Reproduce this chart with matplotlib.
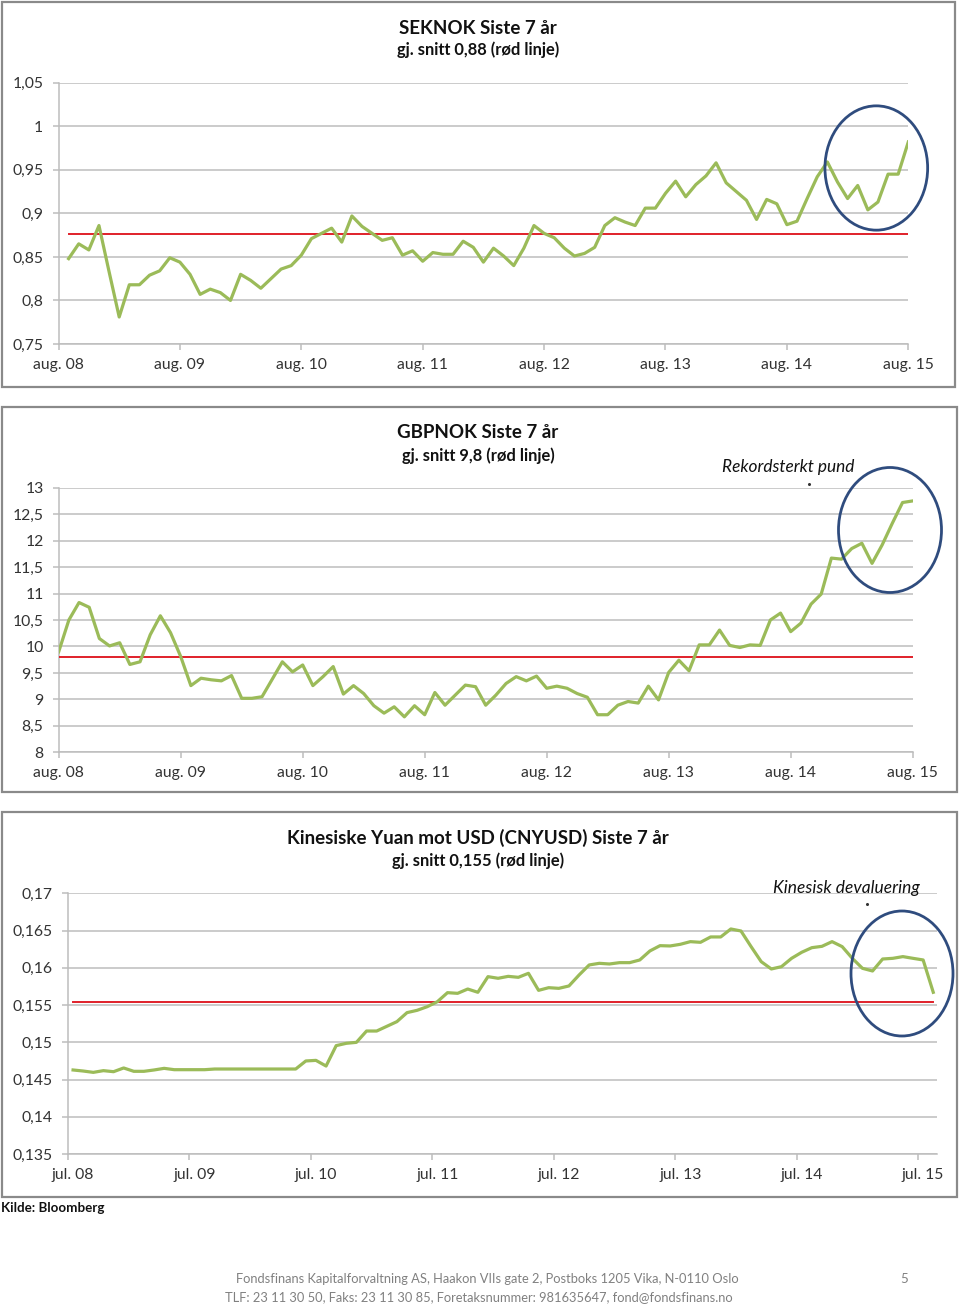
import matplotlib
matplotlib.use('Agg')
import matplotlib.pyplot as plt
from matplotlib.patches import Ellipse, Rectangle
from matplotlib.transforms import ScaledTranslation
import numpy as np

W, H = 960, 1307
plt.rcParams['font.family'] = ['Lato', 'DejaVu Sans']

# ---------------- data ----------------
sek_values = [
    0.848, 0.865, 0.858, 0.886, 0.833, 0.781, 0.818, 0.818, 0.829, 0.834, 0.849, 0.844,
    0.830, 0.807, 0.813, 0.809, 0.800, 0.830, 0.823, 0.814, 0.825, 0.836, 0.840, 0.852,
    0.871, 0.877, 0.883, 0.867, 0.897, 0.885, 0.877, 0.869, 0.872, 0.852, 0.857, 0.845,
    0.855, 0.853, 0.853, 0.868, 0.861, 0.844, 0.860, 0.851, 0.840, 0.860, 0.886, 0.877,
    0.872, 0.860, 0.851, 0.854, 0.861, 0.886, 0.895, 0.890, 0.886, 0.906, 0.906, 0.923,
    0.937, 0.919, 0.933, 0.943, 0.958, 0.935, 0.925, 0.915, 0.893, 0.916, 0.911, 0.887,
    0.891, 0.917, 0.942, 0.959, 0.936, 0.917, 0.932, 0.904, 0.913, 0.945, 0.945, 0.982,
]
sek_avg = 0.876

gbp_values = [
    9.90, 10.50, 10.83, 10.74, 10.15, 10.01, 10.07, 9.66, 9.71, 10.22, 10.58, 10.26,
    9.81, 9.26, 9.40, 9.37, 9.35, 9.45, 9.02, 9.02, 9.05, 9.38, 9.71, 9.52,
    9.65, 9.26, 9.43, 9.62, 9.10, 9.26, 9.11, 8.88, 8.74, 8.86, 8.67, 8.88,
    8.71, 9.13, 8.89, 9.08, 9.27, 9.24, 8.89, 9.08, 9.30, 9.43, 9.35, 9.44,
    9.21, 9.25, 9.21, 9.11, 9.04, 8.71, 8.71, 8.89, 8.96, 8.93, 9.25, 8.99,
    9.51, 9.74, 9.54, 10.03, 10.03, 10.31, 10.02, 9.98, 10.03, 10.02, 10.50, 10.63,
    10.28, 10.44, 10.80, 10.99, 11.67, 11.65, 11.85, 11.95, 11.57, 11.92, 12.33, 12.72, 12.75,
]
gbp_avg = 9.81

cny_values = [
    0.14628, 0.14614, 0.14596, 0.14619, 0.14605, 0.14655, 0.14610, 0.14610, 0.14628, 0.14650, 0.14632, 0.14632,
    0.14632, 0.14632, 0.14641, 0.14641, 0.14641, 0.14641, 0.14641, 0.14641, 0.14641, 0.14641, 0.14641, 0.14749,
    0.14757, 0.14681, 0.14955, 0.14986, 0.14999, 0.15151, 0.15151, 0.15214, 0.15277, 0.15398, 0.15429, 0.15478,
    0.15545, 0.15666, 0.15657, 0.15715, 0.15671, 0.15881, 0.15859, 0.15885, 0.15872, 0.15926, 0.15697, 0.15733,
    0.15724, 0.15756, 0.15903, 0.16038, 0.16060, 0.16051, 0.16069, 0.16069, 0.16105, 0.16226, 0.16297, 0.16293,
    0.16315, 0.16351, 0.16342, 0.16414, 0.16414, 0.16521, 0.16494, 0.16284, 0.16082, 0.15984, 0.16015, 0.16127,
    0.16208, 0.16270, 0.16288, 0.16351, 0.16284, 0.16127, 0.15993, 0.15957, 0.16118, 0.16127, 0.16150, 0.16127,
    0.16105, 0.15671,
]
cny_avg = 0.15536

aug_labels = ['aug. 08', 'aug. 09', 'aug. 10', 'aug. 11', 'aug. 12', 'aug. 13', 'aug. 14', 'aug. 15']
jul_labels = ['jul. 08', 'jul. 09', 'jul. 10', 'jul. 11', 'jul. 12', 'jul. 13', 'jul. 14', 'jul. 15']

sek_yticks = [0.75, 0.80, 0.85, 0.90, 0.95, 1.00, 1.05]
sek_ylabels = ['0,75', '0,8', '0,85', '0,9', '0,95', '1', '1,05']
gbp_yticks = [8, 8.5, 9, 9.5, 10, 10.5, 11, 11.5, 12, 12.5, 13]
gbp_ylabels = ['8', '8,5', '9', '9,5', '10', '10,5', '11', '11,5', '12', '12,5', '13']
cny_yticks = [0.135, 0.14, 0.145, 0.15, 0.155, 0.16, 0.165, 0.17]
cny_ylabels = ['0,135', '0,14', '0,145', '0,15', '0,155', '0,16', '0,165', '0,17']

titles = ['SEKNOK Siste 7 år', 'GBPNOK Siste 7 år', 'Kinesiske Yuan mot USD (CNYUSD) Siste 7 år']
subtitles = ['gj. snitt 0,88 (rød linje)', 'gj. snitt 9,8 (rød linje)', 'gj. snitt 0,155 (rød linje)']

# ---------------- styling ----------------
GREEN = '#9BBB59'
RED = '#E0202A'
GRID = '#BDBDBD'
TXT = '#333333'
BLUE = '#2F4C7E'

fig = plt.figure(figsize=(W / 100, H / 100), dpi=100)
fig.patch.set_facecolor('white')


def fx(x):
    return x / W


def fy(y):
    return 1 - y / H


def frame(x0, y0, x1, y1):
    fig.patches.append(Rectangle((fx(x0), fy(y1)), fx(x1 - x0), (y1 - y0) / H,
                                 transform=fig.transFigure, fill=False,
                                 edgecolor='#8A8A8A', lw=1.6, zorder=0))


def make_ax(left, right, top, bottom, xlim, ylim, yticks, ylabels, xlabels, xshift=0):
    ax = fig.add_axes([fx(left), fy(bottom), (right - left) / W, (bottom - top) / H])
    ax.set_xlim(*xlim)
    ax.set_ylim(*ylim)
    ax.set_yticks(yticks)
    ax.set_yticklabels(ylabels)
    ax.set_xticks(np.arange(0, 85, 12))
    ax.set_xticklabels(xlabels)
    for s in ['top', 'right']:
        ax.spines[s].set_visible(False)
    for s in ['left', 'bottom']:
        ax.spines[s].set_color(GRID)
        ax.spines[s].set_linewidth(1.1)
    ax.yaxis.grid(True, color=GRID, lw=1.1)
    ax.set_axisbelow(True)
    ax.tick_params(axis='both', colors=GRID, labelcolor=TXT, length=4, width=1.1,
                   labelsize=11.3)
    ax.tick_params(axis='y', pad=7)
    ax.tick_params(axis='x', pad=6)
    ax.set_facecolor('none')
    if xshift:
        for lab in ax.get_xticklabels():
            lab.set_transform(lab.get_transform() + ScaledTranslation(xshift / 100, 0, fig.dpi_scale_trans))
    return ax


# panel frames
frame(2, 2, 955, 387)
frame(2, 407, 957, 792)
frame(2, 812, 957, 1197)

# ---- chart 1 ----
ax1 = make_ax(58.5, 908.3, 82.7, 344, (0, 84), (0.75, 1.05), sek_yticks, sek_ylabels, aug_labels)
x1 = np.arange(1, len(sek_values) + 1)
ax1.plot([x1[0], x1[-1]], [sek_avg, sek_avg], color=RED, lw=1.4, zorder=3)
ax1.plot(x1, sek_values, color=GREEN, lw=2.3, zorder=4, solid_joinstyle='round')

# ---- chart 2 ----
ax2 = make_ax(58.7, 912.7, 487.7, 752.3, (0, 84), (8, 13), gbp_yticks, gbp_ylabels, aug_labels)
x2 = np.arange(0, len(gbp_values))
ax2.plot([x2[0], x2[-1]], [gbp_avg, gbp_avg], color=RED, lw=1.4, zorder=3)
ax2.plot(x2, gbp_values, color=GREEN, lw=2.3, zorder=4, solid_joinstyle='round')

# ---- chart 3 ----
ax3 = make_ax(68, 936.7, 893.3, 1154, (0, 85.84), (0.135, 0.17), cny_yticks, cny_ylabels, jul_labels, xshift=5)
x3 = np.arange(len(cny_values)) + 0.5
ax3.plot([x3[0], x3[-1]], [cny_avg, cny_avg], color=RED, lw=1.4, zorder=3)
ax3.plot(x3, cny_values, color=GREEN, lw=2.3, zorder=4, solid_joinstyle='round')

# titles
title_y = [(28, 50), (433, 456), (838, 861)]
for t, s, (ty, sy) in zip(titles, subtitles, title_y):
    fig.text(fx(478), fy(ty), t, ha='center', va='center', fontsize=13.5,
             fontweight='bold', color='#111111')
    fig.text(fx(478), fy(sy), s, ha='center', va='center', fontsize=11.9,
             fontweight='bold', color='#111111')

# annotations
fig.text(fx(788.5), fy(467), 'Rekordsterkt pund', ha='center', va='center',
         fontsize=12.4, style='italic', color='#111111')
fig.text(fx(846), fy(888), 'Kinesisk devaluering', ha='center', va='center',
         fontsize=12.5, style='italic', color='#111111')
for (px, py) in [(809, 484), (867, 904)]:
    fig.lines.append(plt.Line2D([fx(px)], [fy(py)], marker='o', ms=1.2, color='#333333',
                                transform=fig.transFigure))

# ellipses
for (cx, cy, w, h) in [(876.3, 168, 102.7, 124.3), (890, 530, 103, 125), (902, 973.5, 102, 125)]:
    fig.patches.append(Ellipse((fx(cx), fy(cy)), w / W, h / H, transform=fig.transFigure,
                               fill=False, edgecolor=BLUE, lw=2.0, zorder=10))

# source and footer
fig.text(fx(1), fy(1208), 'Kilde: Bloomberg', ha='left', va='center', fontsize=9.6,
         fontweight='bold', color='#111111')
fig.text(fx(487), fy(1279), 'Fondsfinans Kapitalforvaltning AS, Haakon VIIs gate 2, Postboks 1205 Vika, N-0110 Oslo',
         ha='center', va='center', fontsize=9.3, color='#808080')
fig.text(fx(478.5), fy(1297), 'TLF: 23 11 30 50, Faks: 23 11 30 85, Foretaksnummer: 981635647, fond@fondsfinans.no',
         ha='center', va='center', fontsize=9.3, color='#808080')
fig.text(fx(904), fy(1279), '5', ha='center', va='center', fontsize=9.5, color='#808080')

fig.savefig('out.png', dpi=100, facecolor='white')
